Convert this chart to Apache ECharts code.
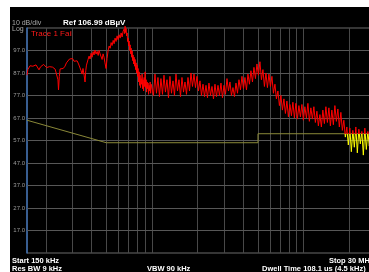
<!DOCTYPE html>
<html lang="en">
<head>
  <meta charset="UTF-8">
  <title>Spectrum</title>
  <style>
    html, body { margin: 0; padding: 0; background: #fff; }
  </style>
</head>
<body>
  <div id="main" style="width: 369px;height:272px;"></div>

  <script src="https://cdn.jsdelivr.net/npm/echarts@6/dist/echarts.min.js"></script>
  <script>
    // trace, MHz / dBuV
    const traceFreqMHz = [
      0.150, 0.152, 0.157, 0.161, 0.164, 0.168, 0.172, 0.176, 0.180, 0.184,
      0.188, 0.193, 0.197, 0.202, 0.206, 0.211, 0.216, 0.221, 0.226, 0.230,
      0.233, 0.236, 0.240, 0.242, 0.245, 0.248, 0.252, 0.255,
      0.260, 0.267, 0.273, 0.280, 0.286, 0.293, 0.300, 0.306, 0.313, 0.321,
      0.328, 0.336, 0.341, 0.346, 0.351, 0.357, 0.362, 0.366, 0.370,
      0.379, 0.385, 0.391, 0.397, 0.403, 0.409, 0.415, 0.421, 0.428, 0.435,
      0.442, 0.448, 0.455, 0.462, 0.469, 0.476, 0.483, 0.490, 0.498, 0.506, 0.514,
      0.522, 0.530, 0.538, 0.546, 0.555, 0.563, 0.571, 0.580, 0.589, 0.598,
      0.607, 0.617, 0.626, 0.636, 0.645, 0.655, 0.660, 0.665, 0.670, 0.675,
      0.680, 0.686, 0.691, 0.696,
      0.702, 0.707, 0.713, 0.718, 0.724, 0.729, 0.735, 0.740, 0.746, 0.751,
      0.757, 0.763, 0.769, 0.774, 0.780, 0.786, 0.792, 0.798, 0.804, 0.810,
      0.817, 0.823, 0.829, 0.835, 0.841, 0.848, 0.855, 0.861, 0.868, 0.874,
      0.881, 0.888, 0.894, 0.901, 0.908, 0.915, 0.922, 0.929, 0.936, 0.943,
      0.950, 0.958, 0.965, 0.973, 0.980, 0.988,
      1.000, 1.023, 1.047, 1.071, 1.095, 1.121, 1.146, 1.173, 1.200, 1.227,
      1.256, 1.285, 1.314, 1.345, 1.376, 1.407, 1.440, 1.473, 1.507, 1.542,
      1.577, 1.614, 1.651, 1.689, 1.728, 1.768, 1.808, 1.850, 1.893, 1.936,
      1.981, 2.026, 2.073, 2.121, 2.170, 2.220, 2.271, 2.323, 2.376, 2.431,
      2.487, 2.545, 2.603, 2.663, 2.724, 2.787, 2.851, 2.917, 2.984, 3.053,
      3.123, 3.195, 3.268, 3.343, 3.420, 3.499, 3.580, 3.662, 3.746, 3.833,
      3.921, 4.011, 4.103, 4.198, 4.294, 4.393, 4.494, 4.598, 4.703, 4.812,
      4.922, 5.036, 5.151, 5.270, 5.391, 5.515, 5.642, 5.772, 5.905, 6.040,
      6.179, 6.322, 6.467, 6.616, 6.768, 6.924, 7.083, 7.246, 7.413, 7.583,
      7.758, 7.936, 8.119, 8.306, 8.497, 8.692, 8.892, 9.096, 9.306, 9.520,
      9.739, 9.963, 10.19, 10.43, 10.67, 10.91, 11.16, 11.42, 11.68, 11.95,
      12.23, 12.51, 12.80, 13.09, 13.39, 13.70, 14.02, 14.34, 14.67, 15.01,
      15.35, 15.70, 16.07, 16.44, 16.81, 17.20, 17.60, 18.00, 18.41, 18.84,
      19.27, 19.71, 20.17, 20.63, 21.11, 21.59, 22.09, 22.60, 23.12, 23.65,
      24.19, 24.75, 25.32, 25.90, 26.50, 27.11, 27.73, 28.37, 29.02, 29.69, 30.00
    ];
    const traceLevelDb = [
      86.0, 88.5, 90.2, 89.6, 90.0, 89.2, 90.6, 89.8, 88.4, 89.7,
      90.3, 90.8, 90.1, 89.4, 90.2, 89.8, 90.4, 89.6, 89.9, 88.7,
      89.5, 88.0, 84.0, 79.5, 85.5, 88.8, 89.6, 89.2,
      89.0, 90.0, 91.5, 92.2, 93.2, 92.6, 93.4, 92.2, 93.0, 92.4,
      91.0, 90.2, 88.0, 86.5, 89.0, 86.0, 83.0, 88.0, 90.5,
      93.0, 94.5, 93.2, 95.8, 94.0, 96.5, 95.0, 97.2, 95.4, 96.6,
      94.8, 97.0, 95.5, 96.0, 93.0, 95.5, 94.0, 91.5, 89.0, 93.5, 97.0,
      99.0, 98.0, 100.5, 99.2, 101.5, 100.0, 102.5, 101.0, 103.5, 101.8,
      104.0, 102.5, 104.8, 103.0, 105.5, 106.5, 104.5, 107.8, 105.0, 106.8,
      103.5, 104.8, 101.0, 102.5,
      99.0, 101.2, 97.0, 99.5, 95.5, 98.0, 94.0, 96.8, 92.5, 95.0,
      91.0, 94.0, 90.0, 93.0, 88.5, 91.5, 87.0, 90.5, 85.5, 89.0,
      83.0, 87.5, 81.5, 86.0, 80.5, 84.5, 82.0, 86.5, 80.0, 84.0,
      79.0, 85.0, 81.0, 87.5, 80.5, 84.0, 78.5, 83.0, 80.0, 82.5,
      77.5, 81.5, 79.0, 83.0, 78.0, 82.0,
      82.0, 77.0, 86.5, 78.0, 85.0, 76.5, 84.5, 77.5, 86.0, 78.5,
      84.0, 76.0, 85.5, 78.0, 83.5, 77.0, 86.5, 79.0, 84.0, 76.5,
      85.0, 78.5, 83.0, 77.5,
      85.0, 79.0, 87.0, 81.0, 86.5, 80.5, 85.5, 79.0, 83.5, 77.0,
      82.0, 76.5, 81.5, 76.0, 82.5, 77.0, 81.0, 75.5, 82.0, 76.5,
      81.5, 77.0, 82.5, 76.0, 81.5, 77.5,
      84.5, 79.0, 83.0, 77.0, 80.5, 76.5, 82.5, 78.0, 84.0, 79.5,
      85.5, 80.0, 85.0, 79.5, 86.5, 82.0, 88.0, 83.0, 89.5, 84.5,
      91.0, 86.0, 92.0,
      84.0, 88.5, 81.0, 87.0, 80.5, 86.5, 81.0, 85.5,
      78.0, 82.0, 75.5, 79.0, 72.5, 77.0, 70.5, 75.5, 69.0, 74.5,
      67.5, 73.0, 68.0, 74.0, 67.0, 73.5, 66.5, 72.5, 67.5, 73.0, 66.0,
      72.0, 67.0, 73.5, 65.5, 71.5, 66.5, 72.0, 65.0, 70.0, 63.5, 68.5, 63.0,
      70.5, 64.5, 72.0, 65.0, 71.5, 63.5, 70.5, 64.0, 72.5, 65.5, 71.0, 63.0, 69.5, 61.5,
      66.0, 58.5, 63.0, 55.0, 62.5, 52.0, 61.5, 54.0, 63.0, 51.5,
      62.0, 55.5, 61.0, 50.5, 62.5, 53.0, 61.0, 54.5, 62.0, 51.0,
      60.5, 52.5, 58.0
    ];

    // limit line
    const limitFreqMHz = [0.15, 0.5, 5, 5, 30];
    const limitLevelDb = [66, 56, 56, 60, 60];

    // graticule
    const gridFreqMHz = [0.2, 0.3, 0.4, 0.5, 0.6, 0.7, 0.8, 0.9, 1, 2, 3, 4, 5, 6, 7, 8, 9, 10, 20];
    const gridLevelDb = [16.99, 26.99, 36.99, 46.99, 56.99, 66.99, 76.99, 86.99, 96.99];

    const refLevel = 106.99;
    const bottomLevel = 6.99;
    const failLevel = 60;

    const myChart = echarts.init(document.getElementById('main'));

    const font = '"Liberation Sans", Arial, sans-serif';
    const txt = (text, x, y, fill, size, weight) => ({
      type: 'text',
      x: x, y: y,
      silent: true,
      style: { text: text, fill: fill, fontSize: size, fontWeight: weight || 'normal', fontFamily: font, verticalAlign: 'middle' }
    });

    const gridLines = [];
    gridFreqMHz.forEach(f => gridLines.push({ xAxis: f, lineStyle: { color: '#484848' } }));
    gridLevelDb.forEach(v => gridLines.push({
      yAxis: v,
      lineStyle: { color: '#575757' },
      label: { show: true, position: 'start', distance: 2, formatter: p => p.value.toFixed(1), color: '#9a9a9a', fontSize: 6, fontFamily: font }
    }));

    const options = {
      animation: false,
      backgroundColor: '#fff',
      graphic: [
        { type: 'rect', shape: { x: 10, y: 7, width: 400, height: 300 }, style: { fill: '#000' }, z: -10, silent: true },
        txt('10 dB/div', 12, 23, '#a8a8a8', 7),
        txt('Log', 12, 29.5, '#a8a8a8', 7),
        txt('Ref 106.99 dBµV', 63, 22.5, '#ffffff', 8, 'bold'),
        txt('Trace 1 Fail', 31, 34, '#ff1a1a', 8),
        txt('Start 150 kHz', 12, 260.5, '#ffffff', 7.5, 'bold'),
        txt('Res BW 9 kHz', 12, 269, '#ffffff', 7.5, 'bold'),
        txt('VBW 90 kHz', 147, 269, '#ffffff', 7.5, 'bold'),
        txt('Stop 30 MHz', 329, 260.5, '#ffffff', 7.5, 'bold'),
        txt('Dwell Time 108.1 us (4.5 kHz)', 262, 269, '#ffffff', 7.5, 'bold')
      ],
      grid: {
        left: 27, top: 28, width: 349, height: 225,
        outerBoundsMode: 'none',
        show: true, borderColor: '#6a6a6a', borderWidth: 1, backgroundColor: 'transparent'
      },
      xAxis: {
        type: 'log',
        logBase: 10,
        min: 0.15,
        max: 30,
        axisLine: { show: false },
        axisTick: { show: false },
        axisLabel: { show: false },
        splitLine: { show: false }
      },
      yAxis: {
        type: 'value',
        min: bottomLevel,
        max: refLevel,
        axisLine: { show: true, lineStyle: { color: '#3a6cb0', width: 1.5 } },
        axisTick: { show: false },
        axisLabel: { show: false },
        splitLine: { show: false }
      },
      visualMap: {
        show: false,
        type: 'piecewise',
        seriesIndex: 1,
        dimension: 1,
        pieces: [
          { min: failLevel, max: 200, color: '#ff0000' },
          { min: -50, max: failLevel, color: '#ffff00' }
        ]
      },
      series: [
        {
          name: 'Limit',
          type: 'line',
          z: 2,
          showSymbol: false,
          silent: true,
          lineStyle: { color: '#8a8838', width: 1 },
          data: limitFreqMHz.map((f, i) => [f, limitLevelDb[i]]),
          markLine: {
            z: 1,
            silent: true,
            symbol: ['none', 'none'],
            animation: false,
            label: { show: false },
            lineStyle: { type: 'solid', width: 1 },
            data: gridLines
          }
        },
        {
          name: 'Trace 1',
          type: 'line',
          z: 3,
          clip: false,
          showSymbol: false,
          silent: true,
          lineStyle: { width: 1 },
          data: traceFreqMHz.map((f, i) => [f, traceLevelDb[i]])
        }
      ]
    };

    myChart.setOption(options);
  </script>
</body>
</html>
